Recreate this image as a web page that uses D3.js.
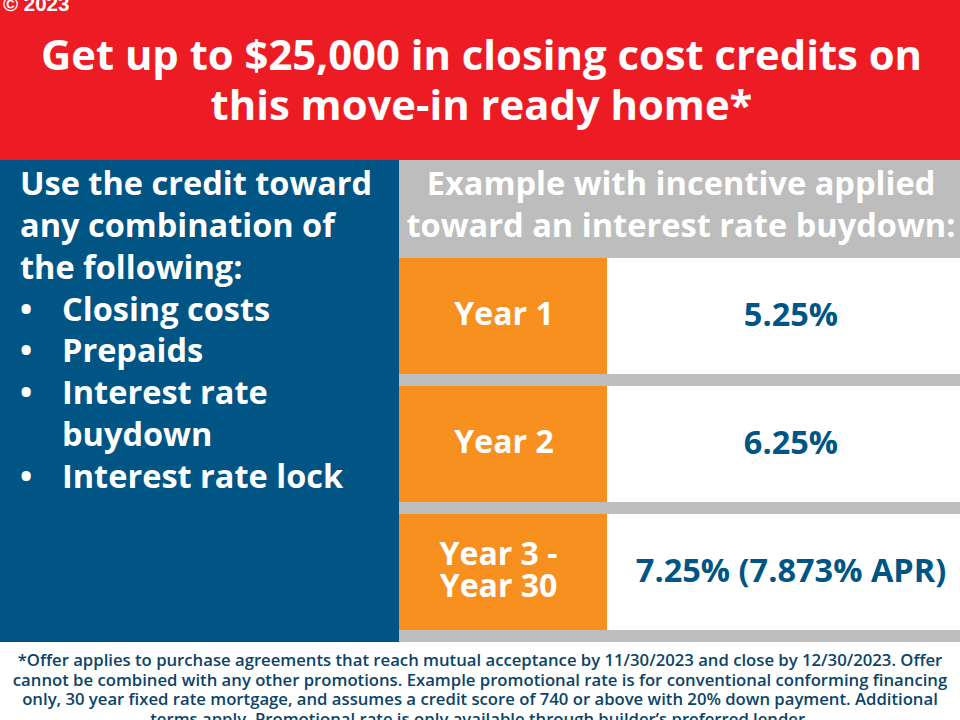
<!DOCTYPE html>
<html>
<head>
<meta charset="utf-8">
<script src="https://cdn.jsdelivr.net/npm/d3@7"></script>
<style>
html, body { margin: 0; padding: 0; background: #fff; overflow: hidden; }
text { font-family: "Open Sans", sans-serif; }
</style>
</head>
<body>
<div id="chart"></div>
<script>
var copyright = '\u00a9 2023';
var titleLines = ['Get up to $25,000 in closing cost credits on', 'this move-in ready home*'];
var introLines = ['Use the credit toward', 'any combination of', 'the following:'];
var bulletLines = [
	{text: 'Closing costs', bullet: true},
	{text: 'Prepaids', bullet: true},
	{text: 'Interest rate', bullet: true},
	{text: 'buydown', bullet: false},
	{text: 'Interest rate lock', bullet: true}
];
var exampleLines = ['Example with incentive applied', 'toward an interest rate buydown:'];
var periods = ['Year 1', 'Year 2', 'Year 3 -|Year 30'];
var rates = ['5.25%', '6.25%', '7.25% (7.873% APR)'];
var noteLines = [
	'*Offer applies to purchase agreements that reach mutual acceptance by 11/30/2023 and close by 12/30/2023. Offer',
	'cannot be combined with any other promotions. Example promotional rate is for conventional conforming financing',
	'only, 30 year fixed rate mortgage, and assumes a credit score of 740 or above with 20% down payment. Additional',
	'terms apply. Promotional rate is only available through builder\u2019s preferred lender.'
];

var colors = {
	red: '#ed1c24',
	blue: '#005584',
	gray: '#bdbdbd',
	orange: '#f7901e',
	white: '#ffffff'
};

var svg = d3.select('#chart').append('svg')
	.attr('width', 960)
	.attr('height', 720);

function block(x, y, w, h, fill) {
	svg.append('rect')
		.attr('x', x).attr('y', y)
		.attr('width', w).attr('height', h)
		.attr('fill', fill);
}

// backgrounds
block(0, 0, 960, 720, colors.white);
block(0, 0, 960, 160, colors.red);
block(0, 160, 399, 482, colors.blue);
block(399, 160, 561, 482, colors.gray);

function lines(data, x, y0, step, opts) {
	svg.append('g').selectAll('text')
		.data(data)
		.join('text')
		.attr('x', x)
		.attr('y', function(d, i) { return y0 + i * step; })
		.attr('text-anchor', opts.anchor)
		.attr('fill', opts.fill)
		.attr('font-size', opts.size)
		.attr('font-weight', opts.weight)
		.text(function(d) { return d; });
}

svg.append('text')
	.attr('x', 3).attr('y', 11)
	.attr('fill', '#fff')
	.attr('font-size', 20.5)
	.attr('font-weight', 700)
	.style('font-family', 'Liberation Sans, sans-serif')
	.text(copyright);

lines(titleLines, 481.5, 70, 50, {anchor: 'middle', fill: '#fff', size: 41.8, weight: 700});
lines(introLines, 20, 195, 42, {anchor: 'start', fill: '#fff', size: 32.5, weight: 700});

// bullet list
var listY = d3.scaleBand()
	.domain(d3.range(bulletLines.length))
	.range([320.5, 320.5 + 5 * 41.8]);

var items = svg.append('g').selectAll('g')
	.data(bulletLines)
	.join('g')
	.attr('transform', function(d, i) { return 'translate(0,' + listY(i) + ')'; })
	.attr('fill', '#fff')
	.attr('font-size', 32.5)
	.attr('font-weight', 700);

items.filter(function(d) { return d.bullet; })
	.append('text')
	.attr('x', 20)
	.text('\u2022');

items.append('text')
	.attr('x', 62)
	.text(function(d) { return d.text; });

lines(exampleLines, 681, 195, 42, {anchor: 'middle', fill: '#fff', size: 32.6, weight: 700});

// rate table
var rowY = d3.scaleBand()
	.domain(periods)
	.range([258, 642])
	.paddingInner(12 / 128)
	.paddingOuter(6 / 128)
	.align(0);

var rows = svg.append('g').selectAll('g')
	.data(periods)
	.join('g')
	.attr('transform', function(d) { return 'translate(0,' + rowY(d) + ')'; });

rows.append('rect')
	.attr('x', 399)
	.attr('width', 208)
	.attr('height', rowY.bandwidth())
	.attr('fill', colors.orange);

rows.append('rect')
	.attr('x', 607)
	.attr('width', 353)
	.attr('height', rowY.bandwidth())
	.attr('fill', colors.white);

rows.each(function(d, i) {
	var parts = d.split('|');
	var mid = rowY.bandwidth() / 2 + 9;
	d3.select(this).selectAll('text.period')
		.data(parts)
		.join('text')
		.attr('class', 'period')
		.attr('x', parts.length > 1 ? 498.5 : 504)
		.attr('y', function(p, j) { return mid + (j - (parts.length - 1) / 2) * 32; })
		.attr('text-anchor', 'middle')
		.attr('fill', '#fff')
		.attr('font-size', 32)
		.attr('font-weight', 700)
		.text(function(p) { return p; });

	d3.select(this).append('text')
		.attr('x', 791)
		.attr('y', mid + 1)
		.attr('text-anchor', 'middle')
		.attr('fill', colors.blue)
		.attr('font-size', 32.5)
		.attr('font-weight', 700)
		.text(rates[i]);
});

lines(noteLines, 480, 666, 19.6, {anchor: 'middle', fill: '#0b4468', size: 16.7, weight: 600});
</script>
</body>
</html>
